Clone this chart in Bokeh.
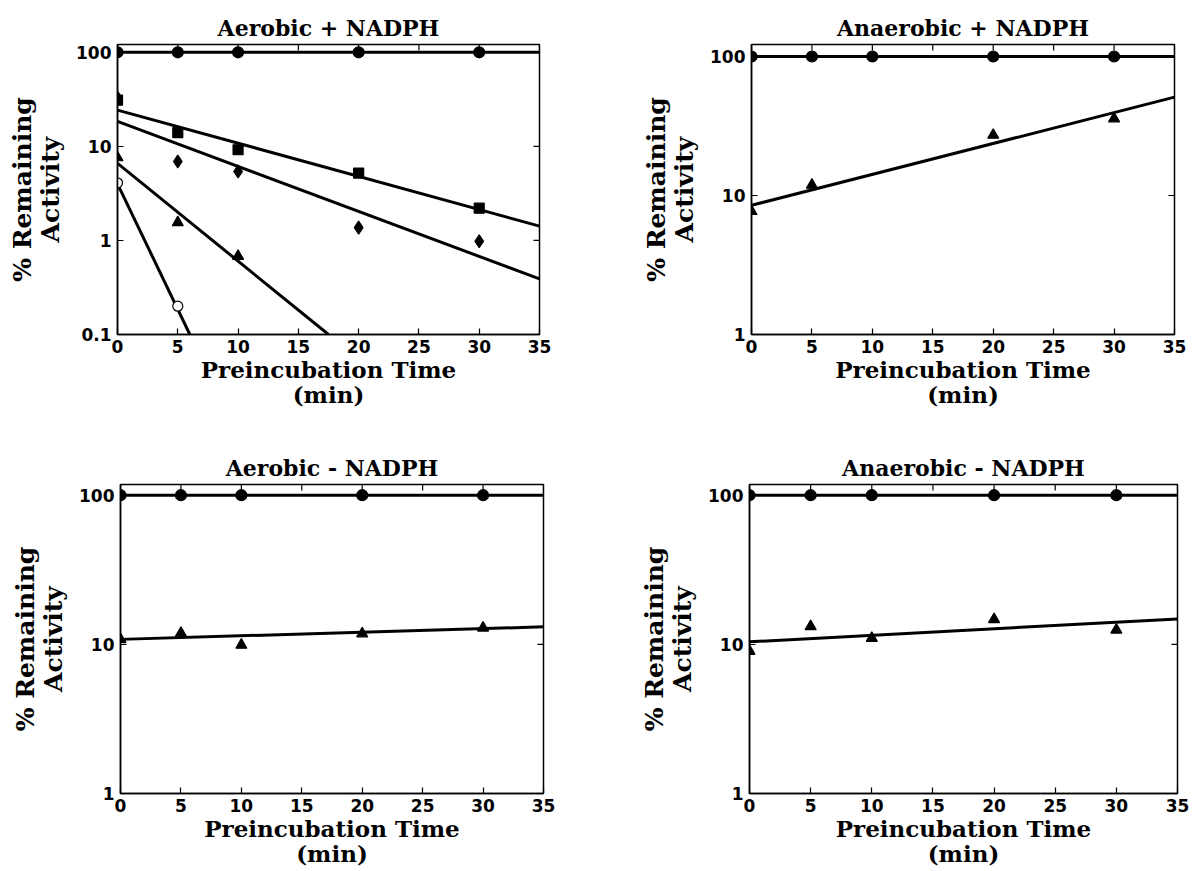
import math
from bokeh.plotting import figure
from bokeh.layouts import column, row
from bokeh.models import Range1d, FixedTicker, NumeralTickFormatter
from bokeh.embed import file_html
from bokeh.resources import INLINE

# ---------------- data ----------------
time_pts = [0, 5, 10, 20, 30]
fit_x = [0, 35]
x_ticks = [0, 5, 10, 15, 20, 25, 30, 35]

# Aerobic + NADPH
aer_p_ctrl = [100, 100, 100, 100, 100]
aer_p_ctrl_fit = [100, 100]
aer_p_square = [31, 14, 9.2, 5.2, 2.2]
aer_p_square_fit = [24.3, 1.42]
aer_p_diamond = [33, 6.9, 5.4, 1.37, 0.98]
aer_p_diamond_fit = [18.4, 0.39]
aer_p_tri_x = [0, 5, 10]
aer_p_tri = [7.6, 1.55, 0.68]
aer_p_tri_fit_x = [0, 17.5]
aer_p_tri_fit = [6.6, 0.1]
aer_p_open_x = [0, 5]
aer_p_open = [4.1, 0.2]
aer_p_open_fit_x = [0, 6.0]
aer_p_open_fit = [4.0, 0.1]

# Anaerobic + NADPH
ana_p_ctrl = [100, 100, 100, 100, 100]
ana_p_ctrl_fit = [100, 100]
ana_p_tri_x = [0, 5, 20, 30]
ana_p_tri = [7.7, 11.9, 27.2, 35.7]
ana_p_tri_fit = [8.5, 51]

# Aerobic - NADPH
aer_m_ctrl = [100, 100, 100, 100, 100]
aer_m_ctrl_fit = [100, 100]
aer_m_tri = [10.8, 11.9, 9.9, 11.8, 12.9]
aer_m_tri_fit = [10.8, 13.1]

# Anaerobic - NADPH
ana_m_ctrl = [100, 100, 100, 100, 100]
ana_m_ctrl_fit = [100, 100]
ana_m_tri = [9.0, 13.2, 11.0, 14.7, 12.5]
ana_m_tri_fit = [10.4, 14.8]

SERIF = "DejaVu Serif"
SANS = "DejaVu Sans"
LW = 3


def make_panel(title, y_lo, y_hi, y_ticks, width, height, mb_left, mb_right, mb_top, mb_bottom):
    p = figure(width=width, height=height, y_axis_type="log",
               x_range=Range1d(0, 35), y_range=Range1d(y_lo, y_hi),
               output_backend="svg", toolbar_location=None,
               min_border_left=mb_left, min_border_right=mb_right,
               min_border_top=mb_top, min_border_bottom=mb_bottom,
               background_fill_color="white", border_fill_color="white")
    p.title.text = title
    p.title.align = "center"
    p.title.text_font = SERIF
    p.title.text_font_style = "bold"
    p.title.text_font_size = "22px"
    p.title.text_color = "black"
    p.title.standoff = 8
    p.xgrid.visible = False
    p.ygrid.visible = False
    p.outline_line_color = "black"
    p.outline_line_width = 1.5
    p.outline_line_alpha = 1.0

    xa = p.xaxis[0]
    xa.ticker = FixedTicker(ticks=x_ticks)
    xa.axis_label = "Preincubation Time\n(min)"
    ya = p.yaxis[0]
    ya.ticker = FixedTicker(ticks=y_ticks)
    ya.formatter = NumeralTickFormatter(format="0.[0]")
    ya.axis_label = "% Remaining\nActivity"
    for ax in (xa, ya):
        ax.major_tick_in = 6
        ax.major_tick_out = 0
        ax.minor_tick_line_color = None
        ax.axis_line_color = "black"
        ax.axis_line_width = 1.5
        ax.major_tick_line_width = 1.2
        ax.major_label_text_font = SANS
        ax.major_label_text_font_style = "bold"
        ax.major_label_text_font_size = "17px"
        ax.major_label_text_color = "black"
        ax.axis_label_text_font = SERIF
        ax.axis_label_text_font_style = "bold"
        ax.axis_label_text_color = "black"
        ax.axis_label_text_line_height = 0.95
    xa.major_label_standoff = 5
    ya.major_label_standoff = 6
    xa.axis_label_text_font_size = "23px"
    xa.axis_label_standoff = 0
    ya.axis_label_text_font_size = "25px"
    ya.axis_label_standoff = 8

    # mirrored inward ticks on the top and right edges of the frame
    p.ray(x=x_ticks, y=[y_hi] * len(x_ticks), length=6, length_units="screen",
          angle=-math.pi / 2, line_color="black", line_width=1.2)
    p.ray(x=[35] * len(y_ticks), y=y_ticks, length=6, length_units="screen",
          angle=math.pi, line_color="black", line_width=1.2)
    return p


def add_fit(p, xs, ys):
    p.line(xs, ys, line_color="black", line_width=LW)


def add_pts(p, xs, ys, marker, size, fill="black"):
    p.scatter(xs, ys, marker=marker, size=size, fill_color=fill,
              line_color="black", line_width=1.2)


# ---------------- top row ----------------
p1 = make_panel("Aerobic + NADPH", 0.1, 121, [0.1, 1, 10, 100],
                600, 411, 117, 61, 43, 70)
add_fit(p1, fit_x, aer_p_ctrl_fit)
add_fit(p1, fit_x, aer_p_square_fit)
add_fit(p1, fit_x, aer_p_diamond_fit)
add_fit(p1, aer_p_tri_fit_x, aer_p_tri_fit)
add_fit(p1, aer_p_open_fit_x, aer_p_open_fit)
add_pts(p1, time_pts, aer_p_diamond, "diamond", 13)
add_pts(p1, time_pts, aer_p_square, "square", 10)
add_pts(p1, aer_p_tri_x, aer_p_tri, "triangle", 11)
add_pts(p1, aer_p_open_x, aer_p_open, "circle", 10, fill="white")
add_pts(p1, time_pts, aer_p_ctrl, "circle", 11)

p2 = make_panel("Anaerobic + NADPH", 1, 122, [1, 10, 100],
                592, 411, 151, 18, 44, 70)
add_fit(p2, fit_x, ana_p_ctrl_fit)
add_fit(p2, fit_x, ana_p_tri_fit)
add_pts(p2, ana_p_tri_x, ana_p_tri, "triangle", 11)
add_pts(p2, time_pts, ana_p_ctrl, "circle", 11)

# ---------------- bottom row ----------------
p3 = make_panel("Aerobic - NADPH", 1, 118, [1, 10, 100],
                600, 459, 120, 57, 73, 70)
add_fit(p3, fit_x, aer_m_ctrl_fit)
add_fit(p3, fit_x, aer_m_tri_fit)
add_pts(p3, time_pts, aer_m_tri, "triangle", 11)
add_pts(p3, time_pts, aer_m_ctrl, "circle", 11)

p4 = make_panel("Anaerobic - NADPH", 1, 118, [1, 10, 100],
                592, 459, 149, 15, 73, 70)
add_fit(p4, fit_x, ana_m_ctrl_fit)
add_fit(p4, fit_x, ana_m_tri_fit)
add_pts(p4, time_pts, ana_m_tri, "triangle", 11)
add_pts(p4, time_pts, ana_m_ctrl, "circle", 11)

layout = column(row(p1, p2), row(p3, p4))

open("out.html", "w").write(file_html(layout, INLINE))
